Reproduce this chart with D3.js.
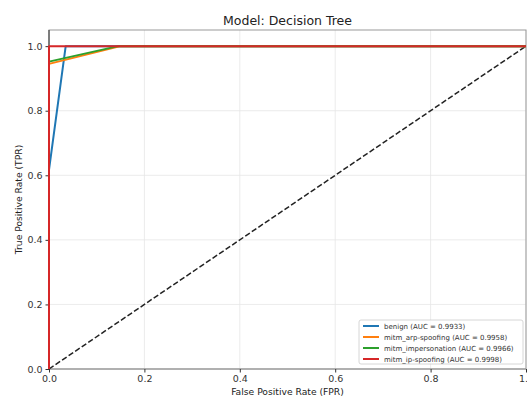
<!DOCTYPE html>
<html><head><meta charset="utf-8">
<script src="https://cdn.jsdelivr.net/npm/d3@7"></script>
<style>body{margin:0;background:#fff}svg{display:block;font-family:"DejaVu Sans",sans-serif}</style>
</head><body><svg id="c" width="527" height="396"></svg>
<script>
const title = "Model: Decision Tree";
const xLabel = "False Positive Rate (FPR)";
const yLabel = "True Positive Rate (TPR)";
const xTicks = [0, 0.2, 0.4, 0.6, 0.8, 1.0];
const yTicks = [0, 0.2, 0.4, 0.6, 0.8, 1.0];
const seriesNames = ["benign", "mitm_arp-spoofing", "mitm_impersonation", "mitm_ip-spoofing"];
const seriesAUC = [0.9933, 0.9958, 0.9966, 0.9998];
const seriesColors = ["#1f77b4", "#ff7f0e", "#2ca02c", "#d62728"];
const benignFPR = [0, 0, 0.035, 1];
const benignTPR = [0, 0.617, 1, 1];
const arpFPR = [0, 0, 0.15, 1];
const arpTPR = [0, 0.945, 1, 1];
const impFPR = [0, 0, 0.145, 1];
const impTPR = [0, 0.952, 1, 1];
const ipFPR = [0, 0, 0.0004, 1];
const ipTPR = [0, 0.9995, 1, 1];
const seriesFPR = [benignFPR, arpFPR, impFPR, ipFPR];
const seriesTPR = [benignTPR, arpTPR, impTPR, ipTPR];
const diagonal = [0, 1];

const svg = d3.select("#c");
const L = 49, R = 526, T = 30, B = 369;
const x = d3.scaleLinear().domain([0, 1]).range([L, R]);
const y = d3.scaleLinear().domain([0, 1.05]).range([B, T]);

// grid
svg.append("g").selectAll("line").data(xTicks).join("line")
  .attr("x1", d => x(d)).attr("x2", d => x(d)).attr("y1", T).attr("y2", B)
  .attr("stroke", "#e6e6e6").attr("stroke-width", 0.8);
svg.append("g").selectAll("line").data(yTicks).join("line")
  .attr("x1", L).attr("x2", R).attr("y1", d => y(d)).attr("y2", d => y(d))
  .attr("stroke", "#e6e6e6").attr("stroke-width", 0.8);

// frame
svg.append("rect").attr("x", L).attr("y", T).attr("width", R - L).attr("height", B - T)
  .attr("fill", "none").attr("stroke", "#999").attr("stroke-width", 1);
svg.append("line").attr("x1", L).attr("x2", L).attr("y1", T).attr("y2", B).attr("stroke", "#333").attr("stroke-width", 1);
svg.append("line").attr("x1", L).attr("x2", R).attr("y1", B).attr("y2", B).attr("stroke", "#999").attr("stroke-width", 1.2);

// axes
const xa = svg.append("g").attr("transform", `translate(0,${B})`)
  .call(d3.axisBottom(x).tickValues(xTicks).tickFormat(d3.format(".1f")).tickSize(3.5).tickPadding(3));
const ya = svg.append("g").attr("transform", `translate(${L},0)`)
  .call(d3.axisLeft(y).tickValues(yTicks).tickFormat(d3.format(".1f")).tickSize(3.5).tickPadding(3));
[xa, ya].forEach(a => {
  a.select(".domain").remove();
  a.selectAll("text").attr("font-size", 9.5).attr("fill", "#333").attr("font-family", "DejaVu Sans");
  a.selectAll(".tick line").attr("stroke", "#333");
});

// diagonal
svg.append("line").attr("x1", x(diagonal[0])).attr("y1", y(diagonal[0]))
  .attr("x2", x(diagonal[1])).attr("y2", y(diagonal[1]))
  .attr("stroke", "#222").attr("stroke-width", 1.5).attr("stroke-dasharray", "5.5,2.4");

// curves
const line = d3.line().x(d => x(d[0])).y(d => y(d[1]));
seriesNames.forEach((n, i) => {
  const pts = seriesFPR[i].map((f, j) => [f, seriesTPR[i][j]]);
  svg.append("path").attr("d", line(pts)).attr("fill", "none")
    .attr("stroke", seriesColors[i]).attr("stroke-width", 2).attr("stroke-linejoin", "round");
});

// labels
svg.append("text").attr("x", (L + R) / 2).attr("y", 24.5).attr("text-anchor", "middle")
  .attr("font-size", 12.5).attr("fill", "#222").text(title);
svg.append("text").attr("x", (L + R) / 2).attr("y", 395).attr("text-anchor", "middle")
  .attr("font-size", 9.2).attr("fill", "#222").text(xLabel);
svg.append("text").attr("transform", `translate(22,${(T + B) / 2}) rotate(-90)`).attr("text-anchor", "middle")
  .attr("font-size", 9.2).attr("fill", "#222").text(yLabel);

// legend
const lg = svg.append("g").attr("transform", "translate(359,320)");
lg.append("rect").attr("width", 164).attr("height", 44).attr("rx", 2)
  .attr("fill", "#fff").attr("fill-opacity", 0.8).attr("stroke", "#ccc").attr("stroke-width", 0.8);
seriesNames.forEach((n, i) => {
  const yy = 6 + i * 11;
  lg.append("line").attr("x1", 4).attr("x2", 20).attr("y1", yy).attr("y2", yy)
    .attr("stroke", seriesColors[i]).attr("stroke-width", 2);
  lg.append("text").attr("x", 25).attr("y", yy + 2.5).attr("font-size", 7).attr("fill", "#333")
    .text(`${n} (AUC = ${seriesAUC[i].toFixed(4)})`);
});
</script></body></html>
